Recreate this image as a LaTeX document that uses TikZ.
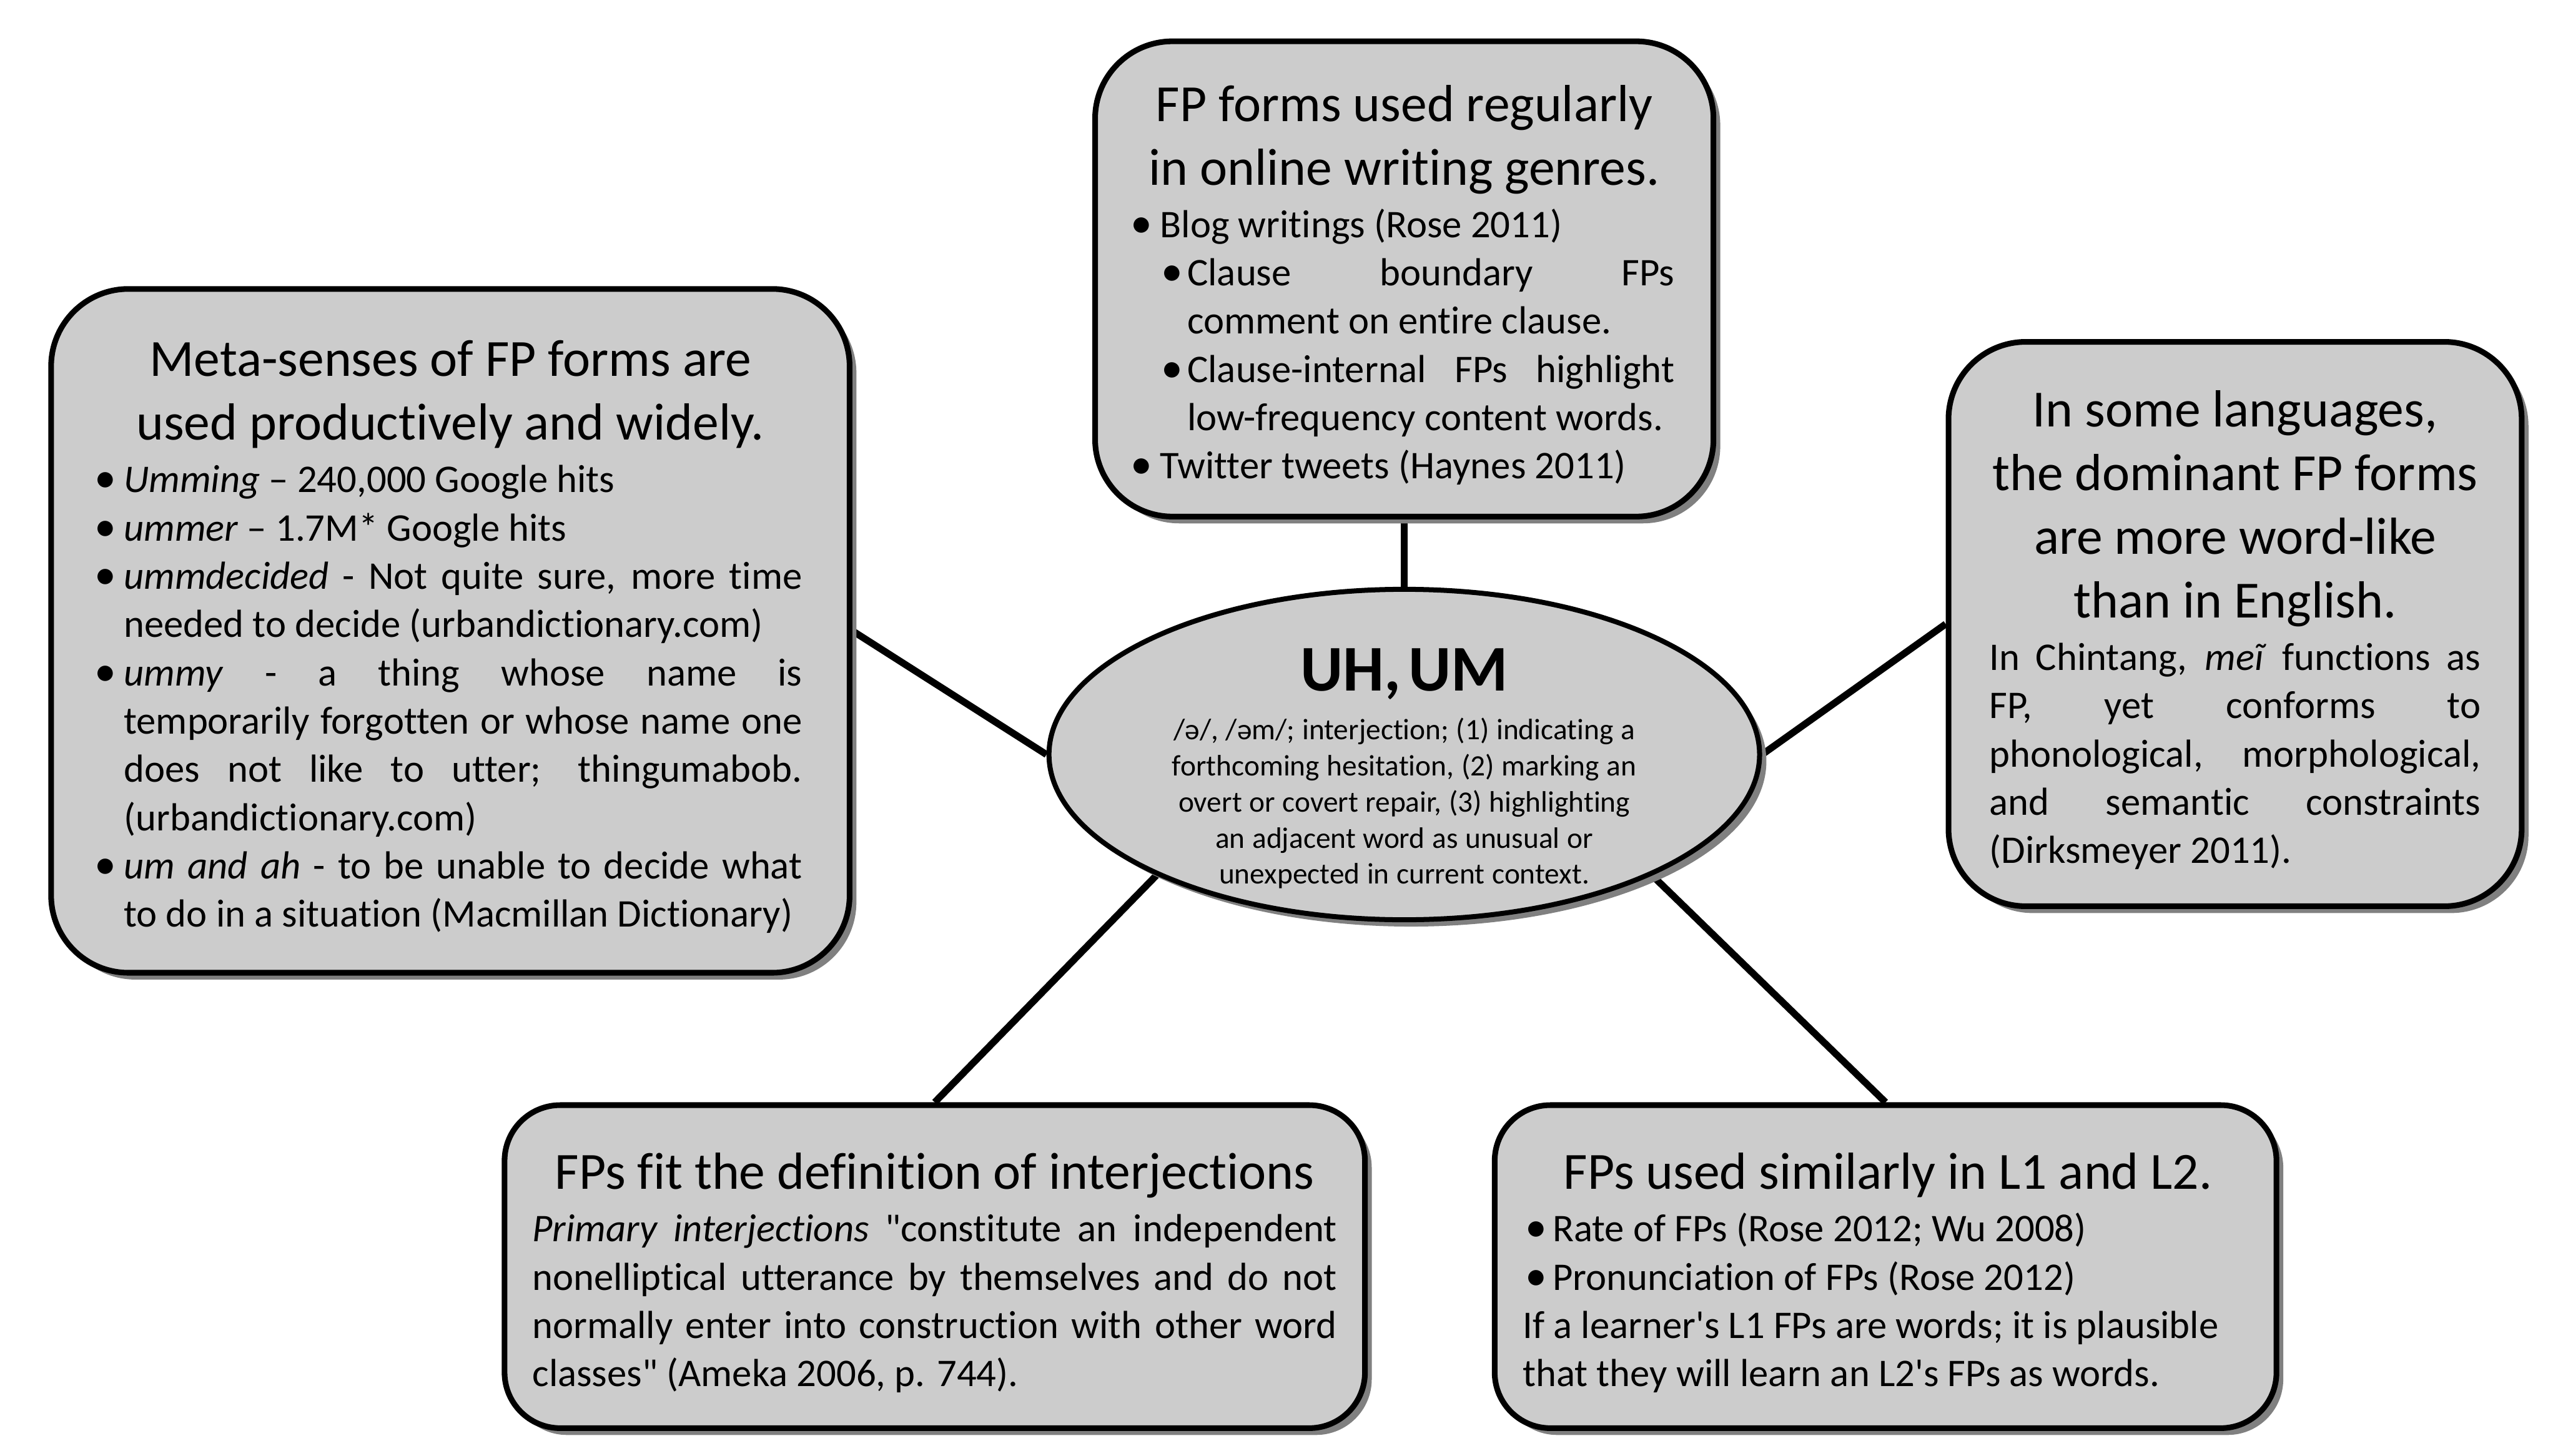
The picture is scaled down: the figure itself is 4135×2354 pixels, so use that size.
\documentclass[tikz,border=0pt]{standalone}
\usepackage{fontspec}
\newfontfamily\fpfont{Carlito}[Ligatures=NoCommon]
\usetikzlibrary{shapes.geometric,shadows,backgrounds}
\definecolor{boxgray}{HTML}{CCCCCC}
\definecolor{shadegray}{HTML}{808080}
\hyphenpenalty=10000
\exhyphenpenalty=10000
% title of a box, then bullet items
\newcommand\boxtitle[1]{{\centering\fontsize{24}{29.2}\selectfont #1\par}\vspace{2pt}}
\newcommand\fpitem[3]{\par\noindent\hangindent=#2\hspace*{#1}\makebox[\dimexpr#2-#1\relax][l]{\fontsize{20}{22}\selectfont•}#3\par}
\begin{document}
\begin{tikzpicture}[x=0.01cm,y=-0.01cm,
  fpbox/.style={draw,line width=2.6pt,fill=boxgray,rounded corners=1.25cm,
    drop shadow={shadow xshift=0.11cm,shadow yshift=-0.11cm,fill=shadegray,opacity=1}},
  fptext/.style={inner sep=0pt,align=justify,font=\fpfont\fontsize{18}{22.2}\selectfont},
  hub/.style={ellipse,draw,line width=2.3pt,fill=boxgray,inner sep=0pt,
    drop shadow={shadow xshift=0.11cm,shadow yshift=-0.11cm,fill=shadegray,opacity=1}},
  spoke/.style={line width=3.2pt}]
\useasboundingbox (0,0) rectangle (4135,2354);

\node (hub) at (2270,1220) [hub,minimum width=11.48cm,minimum height=5.34cm]{};
\node (hubtext) at (2270,1243) [font=\fpfont,text width=9cm,align=center,inner sep=0pt]
  {{\fontsize{30}{36}\selectfont\bfseries UH, UM\par}\vspace{5.7pt}
   {\fontsize{13.6}{16.6}\selectfont /ə/, /əm/; interjection; (1) indicating a\\
    forthcoming hesitation, (2) marking an\\ overt or covert repair, (3) highlighting\\
    an adjacent word as unusual or\\ unexpected in current context.\par}};

% top box
\node (tbox) at (2270,451) [fpbox,minimum width=9.99cm,minimum height=7.68cm]{};
\node (ttext) at ([yshift=-0.1cm]tbox.center) [fptext,text width=8.73cm]
  {\boxtitle{FP forms used regularly\\ in online writing genres.}
   \fpitem{-0.06cm}{0.42cm}{Blog writings (Rose 2011)}
   \fpitem{0.44cm}{0.86cm}{Clause boundary FPs\linebreak comment on entire clause.}
   \fpitem{0.44cm}{0.86cm}{Clause-internal FPs highlight\linebreak low-frequency content words.}
   \fpitem{-0.06cm}{0.42cm}{Twitter tweets (Haynes 2011)}};

% left box
\node (lbox) at (728,1020) [fpbox,minimum width=12.9cm,minimum height=11.05cm]{};
\node (ltext) at ([yshift=-0.1cm]lbox.center) [fptext,text width=11.37cm]
  {\boxtitle{Meta-senses of FP forms are\\ used productively and widely.}
   \fpitem{-0.06cm}{0.41cm}{\textit{Umming} – 240,000 Google hits}
   \fpitem{-0.06cm}{0.41cm}{\textit{ummer} – 1.7M* Google hits}
   \fpitem{-0.06cm}{0.41cm}{\textit{ummdecided} - Not quite sure, more time\linebreak needed to decide (urbandictionary.com)}
   \fpitem{-0.06cm}{0.41cm}{\textit{ummy} - a thing whose name is\linebreak temporarily forgotten or whose name one\linebreak
     does not like to utter; thingumabob.\linebreak (urbandictionary.com)}
   \fpitem{-0.06cm}{0.41cm}{\textit{um and ah} - to be unable to decide what\linebreak to do in a situation (Macmillan Dictionary)}};

% right box
\node (rbox) at (3613,1009) [fpbox,minimum width=9.26cm,minimum height=9.12cm]{};
\node (rtext) at ([yshift=-0.1cm]rbox.center) [fptext,text width=7.94cm]
  {\boxtitle{In some languages,\\ the dominant FP forms\\ are more word-like\\ than in English.}
   \noindent In Chintang, \textit{meĩ} functions as\linebreak FP, yet conforms to\linebreak
   phonological, morphological,\linebreak and semantic constraints\linebreak (Dirksmeyer 2011).};

% bottom boxes
\node (blbox) at (1511,2048) [fpbox,rounded corners=0.9cm,minimum width=13.9cm,minimum height=5.22cm]{};
\node (bltext) at ([yshift=-0.1cm]blbox.center) [fptext,text width=13cm]
  {\boxtitle{FPs fit the definition of interjections}
   \noindent\textit{Primary interjections} "constitute an independent\linebreak
   nonelliptical utterance by themselves and do not\linebreak
   normally enter into construction with other word\linebreak
   classes" (Ameka 2006, p. 744).};

\node (brbox) at (3048,2048) [fpbox,rounded corners=0.9cm,minimum width=12.63cm,minimum height=5.22cm]{};
\node (brtext) at ([yshift=-0.1cm,xshift=0.04cm]brbox.center) [fptext,text width=11.8cm]
  {\boxtitle{FPs used similarly in L1 and L2.}
   \fpitem{0.04cm}{0.48cm}{Rate of FPs (Rose 2012; Wu 2008)}
   \fpitem{0.04cm}{0.48cm}{Pronunciation of FPs (Rose 2012)}
   \noindent If a learner's L1 FPs are words; it is plausible\\ that they will learn an L2's FPs as words.};

\begin{scope}[on background layer]
\draw[spoke] (tbox) -- (hub);
\draw[spoke] (lbox.east) -- (hub.west);
\draw[spoke] (rbox.west) -- (hub.east);
\draw[spoke] (blbox.north) -- (hub.206);
\draw[spoke] (brbox.north) -- (hub.334);
\end{scope}
\end{tikzpicture}
\end{document}
